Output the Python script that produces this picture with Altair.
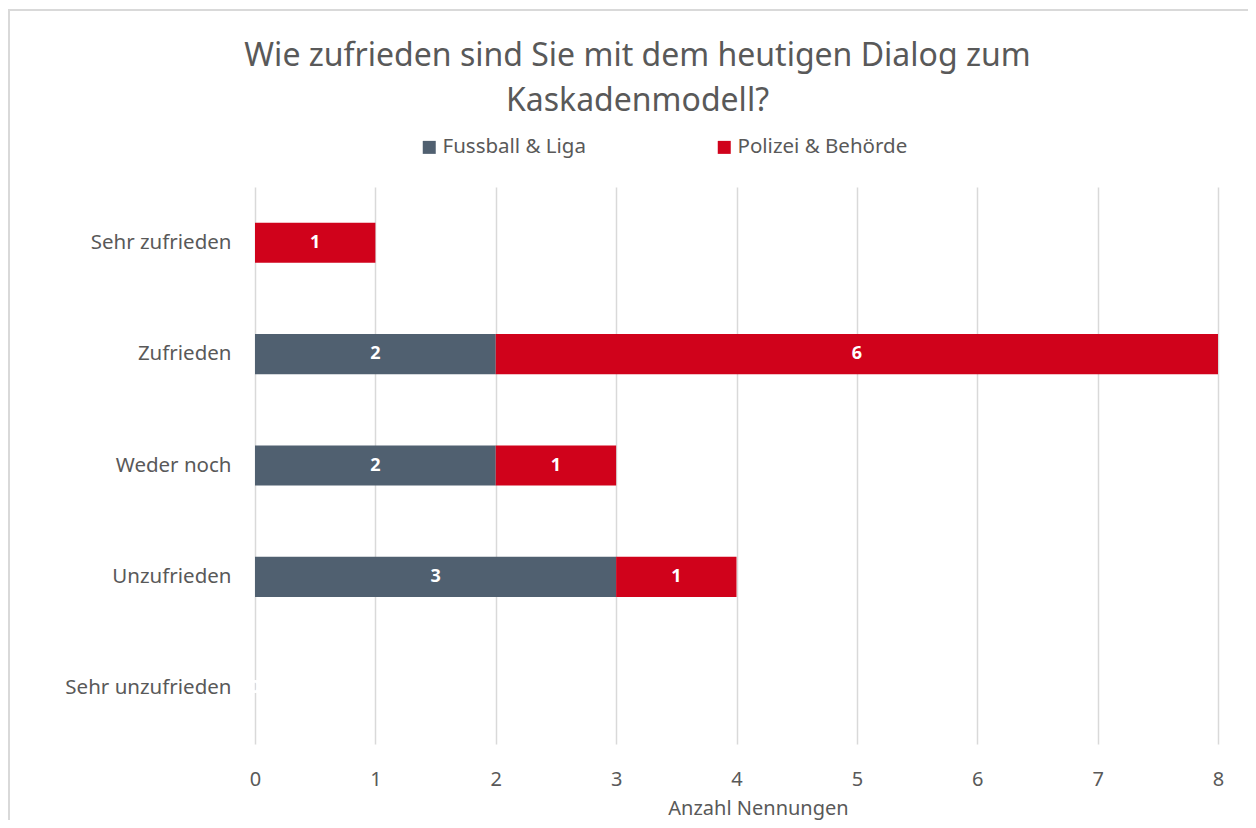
import altair as alt
import pandas as pd

categories = ["Sehr zufrieden", "Zufrieden", "Weder noch", "Unzufrieden", "Sehr unzufrieden"]
series = ["Fussball & Liga", "Polizei & Behörde"]
fussball = [None, 2, 2, 3, 0]
polizei = [1, 6, 1, 1, 0]
x_ticks = [0, 1, 2, 3, 4, 5, 6, 7, 8]
colors = ["#506070", "#D0021B"]

rows = []
for i, c in enumerate(categories):
    rows.append({"cat": c, "series": series[0], "order": 0, "v": fussball[i]})
    rows.append({"cat": c, "series": series[1], "order": 1, "v": polizei[i]})
df = pd.DataFrame(rows)

FONT = "Noto Sans"
TXT = "#595959"

base = alt.Chart(df).transform_filter(
    "isValid(datum.v)"
).transform_stack(
    stack="v", groupby=["cat"], as_=["v0", "v1"], sort=[alt.SortField("order", order="ascending")]
).transform_calculate(mid="(datum.v0 + datum.v1) / 2")

y_enc = alt.Y(
    "cat:N",
    sort=categories,
    title=None,
    scale=alt.Scale(paddingInner=0.64, paddingOuter=0.32),
    axis=alt.Axis(labelFontSize=20.5, labelColor=TXT, labelFont=FONT, ticks=False,
                  domain=False, labelPadding=24, grid=False),
)

bars = base.mark_bar().encode(
    x=alt.X(
        "v0:Q",
        scale=alt.Scale(domain=[0, 8], nice=False),
        title="Anzahl Nennungen",
        axis=alt.Axis(values=x_ticks, format="d", grid=True, gridColor="#D9D9D9", gridWidth=1.5,
                      domain=False, ticks=False, labelFontSize=20, labelColor=TXT, labelFont=FONT,
                      labelPadding=25, labelFlush=False, titleFontSize=20, titleColor=TXT,
                      titleFont=FONT, titleFontWeight="normal", titlePadding=9, titleX=503),
    ),
    x2="v1:Q",
    y=y_enc,
    color=alt.Color(
        "series:N",
        sort=series,
        scale=alt.Scale(domain=series, range=colors),
        legend=alt.Legend(
            title=None, orient="none", direction="horizontal", legendX=164, legendY=-50,
            symbolType="square", symbolSize=169, symbolStrokeWidth=0, labelFontSize=20.5,
            labelColor=TXT, labelFont=FONT, columnPadding=128, labelOffset=3, labelLimit=400,
        ),
    ),
)

labels = base.mark_text(fontSize=18, fontWeight="bold", color="white", font=FONT).encode(
    x=alt.X("mid:Q"),
    y=alt.Y("cat:N", sort=categories),
    text=alt.Text("v:Q", format="d"),
)

frame = alt.Chart(df).mark_rect(fill=None, stroke="#D9D9D9", strokeWidth=1.5).encode(
    x=alt.value(-246), x2=alt.value(1100), y=alt.value(-177), y2=alt.value(800)
)

chart = alt.layer(frame, bars, labels).properties(
    width=963,
    height=557,
    autosize=alt.AutoSizeParams(type="none"),
    padding={"left": 247, "top": 179, "right": 30, "bottom": 76},
    title=alt.TitleParams(
        text=["Wie zufrieden sind Sie mit dem heutigen Dialog zum", "Kaskadenmodell?"],
        fontSize=32, font=FONT, color=TXT, fontWeight="normal", anchor="middle",
        frame="group", dx=-99, offset=-109, lineHeight=45,
    ),
).configure_view(stroke=None)

chart.save("out.html", embed_options={"renderer": "svg", "actions": False})
